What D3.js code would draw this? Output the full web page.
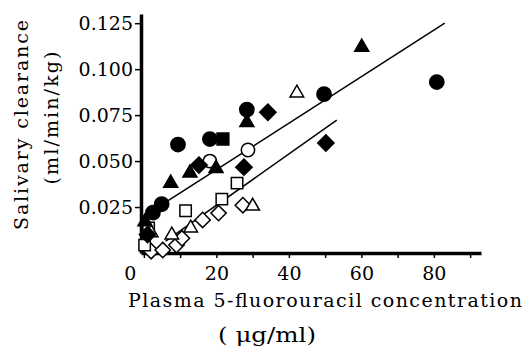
<!DOCTYPE html>
<html>
<head>
<meta charset="utf-8">
<script src="https://cdn.jsdelivr.net/npm/d3@7"></script>
<style>
  body { margin: 0; background: #fff; }
  svg text { font-family: "DejaVu Serif", serif; fill: #000; }
</style>
</head>
<body>
<div id="chart"></div>
<script>
// data [x = plasma 5-FU (ug/ml), y = clearance (ml/min/kg)]
const filledCircle = [[2.5, 0.022], [4.9, 0.0266], [9.4, 0.059], [18.2, 0.062], [28.4, 0.078], [49.7, 0.0864], [80.8, 0.093]];
const openCircle = [[18.2, 0.050], [28.7, 0.056]];
const filledTriangle = [[0.3, 0.017], [7.4, 0.038], [12.7, 0.0435], [19.9, 0.046], [28.4, 0.071], [60.1, 0.112]];
const openTriangle = [[2.0, 0.011], [7.7, 0.0098], [12.9, 0.0136], [30.0, 0.0255], [42.2, 0.087]];
const filledSquare = [[21.8, 0.062]];
const openSquare = [[0.2, 0.0043], [1.3, 0.0136], [11.5, 0.023], [21.5, 0.0293], [25.7, 0.038]];
const filledDiamond = [[1.0, 0.010], [15.2, 0.0478], [27.6, 0.0467], [34.2, 0.0766], [50.2, 0.0598]];
const openDiamond = [[2.0, 0.001], [5.2, 0.0016], [9.0, 0.0043], [10.5, 0.008], [16.2, 0.018], [20.6, 0.0217], [27.3, 0.026]];

const upperFit = [[0, 0.020], [83, 0.125]];
const lowerFit = [[6, 0.0064], [53.2, 0.0723]];

const yTicks = [0.025, 0.050, 0.075, 0.100, 0.125];
const xTicks = [0, 10, 20, 30, 40, 50, 60, 70, 80, 90];
const xLabels = [0, 20, 40, 60, 80];

const yTitle = ['Salivary clearance', '(ml/min/kg)'];
const xTitle = ['Plasma  5-fluorouracil  concentration', '( \u03bcg/ml)'];

// container
const width = 529;
const height = 347;

const svg = d3.select('#chart')
    .append('svg')
    .attr('width', width)
    .attr('height', height);

const x = d3.scaleLinear().domain([-0.8, 93]).range([141, 481]);
const y = d3.scaleLinear().domain([0, 0.13]).range([253, 14]);

// y axis
const yAxis = d3.axisLeft(y)
    .tickValues(yTicks)
    .tickFormat(d3.format('.3f'))
    .tickSize(6)
    .tickSizeOuter(0)
    .tickPadding(2);

const yAxisGroup = svg.append('g')
    .attr('transform', `translate(${x(-0.8)},0)`)
    .call(yAxis);
yAxisGroup.select('.domain').attr('stroke-width', 3.5);
yAxisGroup.selectAll('.tick line').attr('stroke-width', 1.5);
yAxisGroup.selectAll('text')
    .attr('font-size', 19)
    .attr('font-family', '"DejaVu Serif", serif');

// x axis
const xAxis = d3.axisBottom(x)
    .tickValues(xTicks)
    .tickFormat(d => xLabels.includes(d) ? d : '')
    .tickSize(5)
    .tickSizeOuter(0)
    .tickPadding(9);

const xAxisGroup = svg.append('g')
    .attr('transform', `translate(0,${y(0)})`)
    .call(xAxis);
xAxisGroup.select('.domain').attr('stroke-width', 3.5);
xAxisGroup.selectAll('.tick line').attr('stroke-width', 1.5);
xAxisGroup.selectAll('text')
    .attr('font-size', 19)
    .attr('font-family', '"DejaVu Serif", serif')
    .attr('dx', d => d === 0 ? -14 : 0);

// fit lines
const line = d3.line().x(d => x(d[0])).y(d => y(d[1]));
[upperFit, lowerFit].forEach(seg => {
    svg.append('path')
        .attr('d', line(seg))
        .attr('fill', 'none')
        .attr('stroke', '#000')
        .attr('stroke-width', 1.5);
});

// points
const series = [
    { data: openDiamond, type: d3.symbolDiamond2, size: 150, filled: false },
    { data: openSquare, type: d3.symbolSquare, size: 130, filled: false },
    { data: openTriangle, type: d3.symbolTriangle, size: 80, filled: false },
    { data: openCircle, type: d3.symbolCircle, size: 140, filled: false },
    { data: filledDiamond, type: d3.symbolDiamond2, size: 170, filled: true },
    { data: filledSquare, type: d3.symbolSquare, size: 140, filled: true },
    { data: filledTriangle, type: d3.symbolTriangle, size: 85, filled: true },
    { data: filledCircle, type: d3.symbolCircle, size: 160, filled: true }
];

series.forEach(s => {
    const sym = d3.symbol().type(s.type).size(s.size);
    svg.append('g')
        .selectAll('path')
        .data(s.data)
        .enter()
        .append('path')
        .attr('d', sym)
        .attr('transform', d => `translate(${x(d[0])},${y(d[1])})`)
        .attr('fill', s.filled ? '#000' : '#fff')
        .attr('stroke', '#000')
        .attr('stroke-width', 1.5);
});

// axis titles
svg.append('text')
    .attr('x', 325).attr('y', 307)
    .attr('text-anchor', 'middle')
    .attr('font-size', 19)
    .attr('textLength', 394)
    .attr('lengthAdjust', 'spacing')
    .text(xTitle[0]);
svg.append('text')
    .attr('x', 267).attr('y', 342)
    .attr('text-anchor', 'middle')
    .attr('font-size', 21)
    .attr('textLength', 98)
    .attr('lengthAdjust', 'spacingAndGlyphs')
    .text(xTitle[1]);

svg.append('text')
    .attr('transform', 'translate(28,125) rotate(-90)')
    .attr('text-anchor', 'middle')
    .attr('font-size', 19)
    .attr('textLength', 210)
    .attr('lengthAdjust', 'spacing')
    .text(yTitle[0]);
svg.append('text')
    .attr('transform', 'translate(58,118) rotate(-90)')
    .attr('text-anchor', 'middle')
    .attr('font-size', 19)
    .attr('textLength', 133)
    .attr('lengthAdjust', 'spacing')
    .text(yTitle[1]);
</script>
</body>
</html>
